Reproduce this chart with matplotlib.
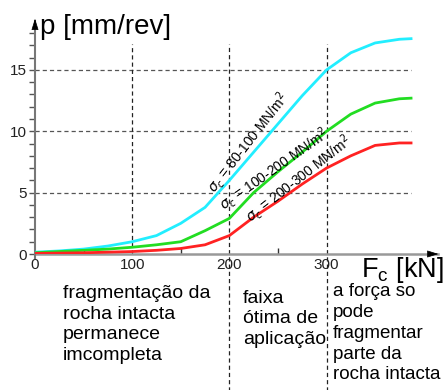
import matplotlib
matplotlib.use("Agg")
import matplotlib.pyplot as plt

plt.rcParams['font.family'] = ['Liberation Sans', 'DejaVu Sans']
plt.rcParams['lines.scale_dashes'] = False

# Fc [kN] and p [mm/rev] for the three rock strength classes
fc = [0, 25, 50, 75, 100, 125, 150, 175, 200, 225, 250, 275, 300, 325, 350, 375, 387]
p_80_100 = [0.15, 0.25, 0.4, 0.65, 1.0, 1.5, 2.5, 3.8, 6.0, 8.3, 10.6, 12.9, 15.0, 16.4, 17.2, 17.5, 17.55]
p_100_200 = [0.1, 0.2, 0.3, 0.4, 0.55, 0.75, 1.0, 1.9, 2.9, 5.0, 6.7, 8.3, 10.0, 11.4, 12.3, 12.65, 12.7]
p_200_300 = [0.05, 0.07, 0.1, 0.15, 0.2, 0.3, 0.45, 0.75, 1.5, 3.0, 4.3, 5.7, 7.0, 8.0, 8.85, 9.05, 9.05]

grid_y = [5, 10, 15]
grid_x = [100, 200, 300]
labels = [r'$\sigma_c$ = 80-100 MN/m$^2$', r'$\sigma_c$ = 100-200 MN/m$^2$', r'$\sigma_c$ = 200-300 MN/m$^2$']
zones = ['fragmentação da\nrocha intacta\npermanece\nimcompleta',
         'faixa\nótima de\naplicação',
         'a força so\npode\nfragmentar\nparte da\nrocha intacta']

fig = plt.figure(figsize=(4.46, 3.9), dpi=100)
ax = fig.add_axes([35 / 446, 136 / 390, 420 * 0.9717 / 446, 19.5 * 12.27 / 390])
ax.set_xlim(0, 420)
ax.set_ylim(0, 19.5)
for s in ax.spines.values():
    s.set_visible(False)

# dashed grid
for g in grid_y:
    ax.plot([0, 387], [g, g], color='#555555', lw=0.9, dashes=(3, 2.2), zorder=1)
ax.plot([100, 100], [0, 17.1], color='#222222', lw=0.9, dashes=(3, 2.2), zorder=1)
for g in grid_x[1:]:
    ax.plot([g, g], [-11.2, 17.1], color='#222222', lw=0.9, dashes=(3, 2.2), zorder=1, clip_on=False)

# curves
ax.plot(fc, p_80_100, color='#22eeff', lw=2.0, zorder=3)
ax.plot(fc, p_100_200, color='#22dd22', lw=2.0, zorder=3)
ax.plot(fc, p_200_300, color='#ff2222', lw=2.0, zorder=3)

# axes with arrows
ax.plot([0, 415], [0, 0], color='#999999', lw=1.8, clip_on=False, zorder=2)
ax.plot([0, 0], [-0.3, 19.0], color='#777777', lw=1.5, clip_on=False, zorder=2)
ax.annotate('', xy=(418, 0), xytext=(404, 0), xycoords='data',
            arrowprops=dict(arrowstyle='-|>,head_length=0.7,head_width=0.22', color='black', lw=0.5),
            annotation_clip=False)
ax.annotate('', xy=(0, 19.4), xytext=(0, 18.3), xycoords='data',
            arrowprops=dict(arrowstyle='-|>,head_length=0.7,head_width=0.22', color='black', lw=0.5),
            annotation_clip=False)

ax.set_xticks([0] + grid_x)
ax.set_xticklabels(['0', '100', '200', '300'])
ax.set_xticks([50, 150, 250], minor=True)
ax.tick_params(axis='x', which='major', length=0, pad=3, labelsize=11, colors='#222222')
ax.tick_params(axis='x', which='minor', direction='in', length=4, width=1, color='#333333')
ax.set_yticks([0] + grid_y)
ax.set_yticks(range(0, 19), minor=True)
ax.tick_params(axis='y', which='both', direction='out', length=4, width=1, color='#555555', pad=2,
               labelsize=11, labelcolor='#222222')

# axis titles
ax.text(5, 17.9, 'p [mm/rev]', fontsize=20, ha='left', va='baseline', clip_on=False)
ax.text(336, -1.9, r'F$_\mathregular{c}$ [kN]', fontsize=19.5, ha='left', va='baseline', clip_on=False)

# curve labels
ax.text(219, 9.1, labels[0], fontsize=10, rotation=52, rotation_mode='anchor', ha='center', va='center')
ax.text(246, 6.9, labels[1], fontsize=10, rotation=35, rotation_mode='anchor', ha='center', va='center')
ax.text(271, 6.1, labels[2], fontsize=10, rotation=38, rotation_mode='anchor', ha='center', va='center')

# zone descriptions below the axis
ax.text(28.8, -2.5, zones[0], fontsize=14, ha='left', va='top', linespacing=1.3, clip_on=False)
ax.text(214, -2.9, zones[1], fontsize=14, ha='left', va='top', linespacing=1.3, clip_on=False)
ax.text(306.5, -2.35, zones[2], fontsize=13.5, ha='left', va='top', linespacing=1.3, clip_on=False)

fig.savefig('out.png', dpi=100)
